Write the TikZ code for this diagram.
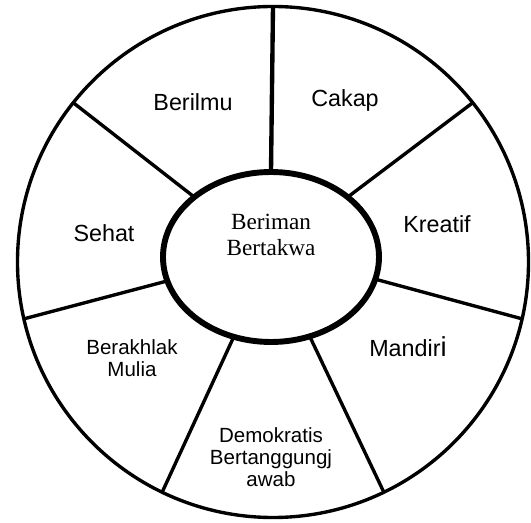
\documentclass[tikz,border=0pt]{standalone}
\usepackage{fontspec}
\setmainfont{Liberation Sans}
\newfontfamily\timesfont{Liberation Serif}
\usetikzlibrary{shapes.geometric}

\begin{document}
\begin{tikzpicture}[
  big/.style={font=\fontsize{16.6}{19}\selectfont, align=center},
  small/.style={font=\fontsize{14.6}{15.6}\selectfont, align=center},
  spoke/.style={line width=2.4pt},
  core/.style={draw, ellipse, line width=4.2pt, fill=white, inner sep=0pt,
               outer sep=0pt, minimum width=5.4cm, minimum height=4.25cm}
]
\useasboundingbox (-6.825,-6.525) rectangle (6.45,6.55);
% outer ring
\draw[spoke] (0,0) circle (6.3875);
\node[core] (hub) at (-0.05,0.125) {};
% spokes
\draw[line width=3.1pt] (hub.90) -- (90:6.3875);
\foreach \k in {1,...,6}
  \draw[spoke] (hub.{90-\k*360/7}) -- ({90-\k*360/7}:6.3875);
% labels
\node[font=\timesfont\fontsize{16.5}{19.1}\selectfont, align=center] (iman) at (-0.05,0.675) {Beriman\\Bertakwa};
\node[big] (ilmu) at (-2.0,4.0) {Berilmu};
\node[big] (cakap) at (1.8,4.05) {Cakap};
\node[big] (kreatif) at (4.1,0.95) {Kreatif};
\node[big] (sehat) at (-4.225,0.725) {Sehat};
\node[big] (mandiri) at (3.375,-2.125) {Mandir{\fontsize{19.5}{20}\selectfont i}};
\node[small] (akhlak) at (-3.525,-2.4) {Berakhlak\\Mulia};
\node[small] (demo) at (-0.05,-4.875) {Demokratis\\Bertanggungj\\awab};
\end{tikzpicture}
\end{document}
